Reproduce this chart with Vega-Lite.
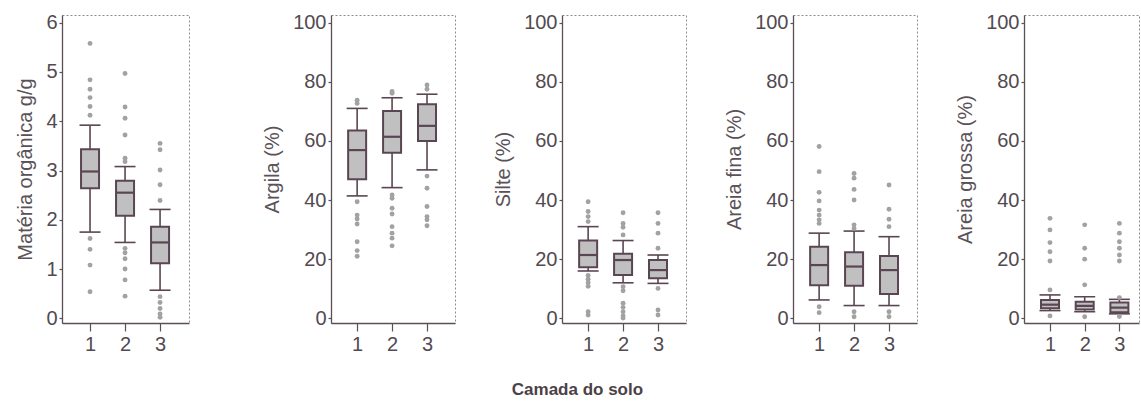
{
  "$schema": "https://vega.github.io/schema/vega-lite/v6.json",
  "background": "white",
  "padding": {"left": 15, "top": 12, "right": 0, "bottom": 2},
  "datasets": {
    "stats": [
      {"var": "mo", "camada": 1, "lo": 1.75, "q1": 2.64, "med": 2.98, "q3": 3.43, "hi": 3.92},
      {"var": "mo", "camada": 2, "lo": 1.54, "q1": 2.08, "med": 2.55, "q3": 2.79, "hi": 3.08},
      {"var": "mo", "camada": 3, "lo": 0.57, "q1": 1.12, "med": 1.54, "q3": 1.86, "hi": 2.21},
      {"var": "argila", "camada": 1, "lo": 41.4, "q1": 47.0, "med": 56.9, "q3": 63.5, "hi": 71.0},
      {"var": "argila", "camada": 2, "lo": 44.2, "q1": 56.0, "med": 61.4, "q3": 70.1, "hi": 74.6},
      {"var": "argila", "camada": 3, "lo": 50.2, "q1": 60.0, "med": 65.1, "q3": 72.4, "hi": 75.8},
      {"var": "silte", "camada": 1, "lo": 16.0, "q1": 17.3, "med": 21.4, "q3": 26.3, "hi": 31.0},
      {"var": "silte", "camada": 2, "lo": 12.0, "q1": 14.6, "med": 19.7, "q3": 21.8, "hi": 26.3},
      {"var": "silte", "camada": 3, "lo": 11.8, "q1": 13.5, "med": 16.3, "q3": 19.7, "hi": 21.4},
      {"var": "afina", "camada": 1, "lo": 6.2, "q1": 11.2, "med": 18.0, "q3": 24.2, "hi": 28.8},
      {"var": "afina", "camada": 2, "lo": 4.3, "q1": 11.0, "med": 17.5, "q3": 22.3, "hi": 29.5},
      {"var": "afina", "camada": 3, "lo": 4.3, "q1": 8.2, "med": 16.3, "q3": 21.1, "hi": 27.6},
      {"var": "agrossa", "camada": 1, "lo": 2.6, "q1": 3.4, "med": 4.6, "q3": 6.2, "hi": 7.9},
      {"var": "agrossa", "camada": 2, "lo": 2.2, "q1": 3.0, "med": 4.2, "q3": 5.6, "hi": 7.3},
      {"var": "agrossa", "camada": 3, "lo": 1.5, "q1": 2.0, "med": 3.6, "q3": 5.3, "hi": 6.4}
    ],
    "out": [
      {"var": "mo", "camada": 1, "v": 5.58}, {"var": "mo", "camada": 1, "v": 4.84}, {"var": "mo", "camada": 1, "v": 4.65}, {"var": "mo", "camada": 1, "v": 4.48}, {"var": "mo", "camada": 1, "v": 4.3}, {"var": "mo", "camada": 1, "v": 4.12},
      {"var": "mo", "camada": 1, "v": 1.62}, {"var": "mo", "camada": 1, "v": 1.4}, {"var": "mo", "camada": 1, "v": 1.08}, {"var": "mo", "camada": 1, "v": 0.54},
      {"var": "mo", "camada": 2, "v": 4.97}, {"var": "mo", "camada": 2, "v": 4.29}, {"var": "mo", "camada": 2, "v": 4.06}, {"var": "mo", "camada": 2, "v": 3.72}, {"var": "mo", "camada": 2, "v": 3.25}, {"var": "mo", "camada": 2, "v": 3.18},
      {"var": "mo", "camada": 2, "v": 1.42}, {"var": "mo", "camada": 2, "v": 1.33}, {"var": "mo", "camada": 2, "v": 1.21}, {"var": "mo", "camada": 2, "v": 1.0}, {"var": "mo", "camada": 2, "v": 0.78}, {"var": "mo", "camada": 2, "v": 0.45},
      {"var": "mo", "camada": 3, "v": 3.55}, {"var": "mo", "camada": 3, "v": 3.42}, {"var": "mo", "camada": 3, "v": 3.01}, {"var": "mo", "camada": 3, "v": 2.71}, {"var": "mo", "camada": 3, "v": 2.39},
      {"var": "mo", "camada": 3, "v": 0.44}, {"var": "mo", "camada": 3, "v": 0.32}, {"var": "mo", "camada": 3, "v": 0.2}, {"var": "mo", "camada": 3, "v": 0.09}, {"var": "mo", "camada": 3, "v": 0.02},
      {"var": "argila", "camada": 1, "v": 73.8}, {"var": "argila", "camada": 1, "v": 72.7}, {"var": "argila", "camada": 1, "v": 39.4}, {"var": "argila", "camada": 1, "v": 34.9}, {"var": "argila", "camada": 1, "v": 33.6}, {"var": "argila", "camada": 1, "v": 31.9}, {"var": "argila", "camada": 1, "v": 25.9}, {"var": "argila", "camada": 1, "v": 22.9}, {"var": "argila", "camada": 1, "v": 21.0},
      {"var": "argila", "camada": 2, "v": 76.7}, {"var": "argila", "camada": 2, "v": 76.1}, {"var": "argila", "camada": 2, "v": 41.7}, {"var": "argila", "camada": 2, "v": 40.6}, {"var": "argila", "camada": 2, "v": 37.2}, {"var": "argila", "camada": 2, "v": 35.3}, {"var": "argila", "camada": 2, "v": 31.0}, {"var": "argila", "camada": 2, "v": 28.8}, {"var": "argila", "camada": 2, "v": 27.1}, {"var": "argila", "camada": 2, "v": 24.5},
      {"var": "argila", "camada": 3, "v": 78.9}, {"var": "argila", "camada": 3, "v": 77.5}, {"var": "argila", "camada": 3, "v": 48.1}, {"var": "argila", "camada": 3, "v": 44.0}, {"var": "argila", "camada": 3, "v": 37.8}, {"var": "argila", "camada": 3, "v": 34.4}, {"var": "argila", "camada": 3, "v": 33.3}, {"var": "argila", "camada": 3, "v": 31.3},
      {"var": "silte", "camada": 1, "v": 39.4}, {"var": "silte", "camada": 1, "v": 36.1}, {"var": "silte", "camada": 1, "v": 34.4}, {"var": "silte", "camada": 1, "v": 32.7}, {"var": "silte", "camada": 1, "v": 14.5}, {"var": "silte", "camada": 1, "v": 13.2}, {"var": "silte", "camada": 1, "v": 12.0}, {"var": "silte", "camada": 1, "v": 10.8}, {"var": "silte", "camada": 1, "v": 2.2}, {"var": "silte", "camada": 1, "v": 1.1},
      {"var": "silte", "camada": 2, "v": 35.7}, {"var": "silte", "camada": 2, "v": 32.1}, {"var": "silte", "camada": 2, "v": 30.8}, {"var": "silte", "camada": 2, "v": 28.2}, {"var": "silte", "camada": 2, "v": 10.7}, {"var": "silte", "camada": 2, "v": 9.3}, {"var": "silte", "camada": 2, "v": 5.1}, {"var": "silte", "camada": 2, "v": 3.7}, {"var": "silte", "camada": 2, "v": 2.2}, {"var": "silte", "camada": 2, "v": 0.8}, {"var": "silte", "camada": 2, "v": 0.1},
      {"var": "silte", "camada": 3, "v": 35.7}, {"var": "silte", "camada": 3, "v": 32.1}, {"var": "silte", "camada": 3, "v": 28.8}, {"var": "silte", "camada": 3, "v": 23.7}, {"var": "silte", "camada": 3, "v": 10.1}, {"var": "silte", "camada": 3, "v": 2.8}, {"var": "silte", "camada": 3, "v": 1.1},
      {"var": "afina", "camada": 1, "v": 58.1}, {"var": "afina", "camada": 1, "v": 49.6}, {"var": "afina", "camada": 1, "v": 42.6}, {"var": "afina", "camada": 1, "v": 39.7}, {"var": "afina", "camada": 1, "v": 36.6}, {"var": "afina", "camada": 1, "v": 34.9}, {"var": "afina", "camada": 1, "v": 33.3}, {"var": "afina", "camada": 1, "v": 32.1}, {"var": "afina", "camada": 1, "v": 3.9}, {"var": "afina", "camada": 1, "v": 1.9},
      {"var": "afina", "camada": 2, "v": 49.0}, {"var": "afina", "camada": 2, "v": 47.4}, {"var": "afina", "camada": 2, "v": 43.6}, {"var": "afina", "camada": 2, "v": 40.0}, {"var": "afina", "camada": 2, "v": 31.6}, {"var": "afina", "camada": 2, "v": 30.4}, {"var": "afina", "camada": 2, "v": 2.2}, {"var": "afina", "camada": 2, "v": 0.5},
      {"var": "afina", "camada": 3, "v": 45.1}, {"var": "afina", "camada": 3, "v": 36.9}, {"var": "afina", "camada": 3, "v": 33.5}, {"var": "afina", "camada": 3, "v": 31.0}, {"var": "afina", "camada": 3, "v": 2.2}, {"var": "afina", "camada": 3, "v": 0.5},
      {"var": "agrossa", "camada": 1, "v": 33.8}, {"var": "agrossa", "camada": 1, "v": 29.9}, {"var": "agrossa", "camada": 1, "v": 25.6}, {"var": "agrossa", "camada": 1, "v": 22.5}, {"var": "agrossa", "camada": 1, "v": 19.4}, {"var": "agrossa", "camada": 1, "v": 9.6}, {"var": "agrossa", "camada": 1, "v": 0.8},
      {"var": "agrossa", "camada": 2, "v": 31.6}, {"var": "agrossa", "camada": 2, "v": 23.7}, {"var": "agrossa", "camada": 2, "v": 20.0}, {"var": "agrossa", "camada": 2, "v": 11.3}, {"var": "agrossa", "camada": 2, "v": 0.5},
      {"var": "agrossa", "camada": 3, "v": 32.1}, {"var": "agrossa", "camada": 3, "v": 28.8}, {"var": "agrossa", "camada": 3, "v": 25.9}, {"var": "agrossa", "camada": 3, "v": 23.7}, {"var": "agrossa", "camada": 3, "v": 21.4}, {"var": "agrossa", "camada": 3, "v": 19.4}, {"var": "agrossa", "camada": 3, "v": 7.0}, {"var": "agrossa", "camada": 3, "v": 0.6}
    ]
  },
  "title": {"text": "Camada do solo", "orient": "bottom", "anchor": "middle", "fontSize": 17, "fontWeight": "bold", "color": "#4a4248", "font": "Liberation Sans", "offset": 27},
  "spacing": 72,
  "hconcat": [
    {
      "width": 127, "height": 308,
      "layer": [
        {"data": {"name": "stats"}, "transform": [{"filter": "datum.var === 'mo'"}],
         "mark": {"type": "rule", "color": "#5a4652", "strokeWidth": 1.6},
         "encoding": {"x": {"field": "camada", "type": "quantitative", "scale": {"domain": [0.342, 3.684], "nice": false, "zero": false}, "axis": {"values": [1, 2, 3], "format": "d", "title": null}},
                      "y": {"field": "lo", "type": "quantitative", "title": "Matéria orgânica g/g", "scale": {"domain": [-0.095, 6.156], "nice": false, "zero": false}, "axis": {"values": [0, 1, 2, 3, 4, 5, 6]}},
                      "y2": {"field": "hi"}}},
        {"data": {"name": "stats"}, "transform": [{"filter": "datum.var === 'mo'"}],
         "mark": {"type": "bar", "size": 18, "fill": "#c0c0c0", "stroke": "#5a4652", "strokeWidth": 2},
         "encoding": {"x": {"field": "camada", "type": "quantitative", "title": null}, "y": {"field": "q1", "type": "quantitative", "title": "Matéria orgânica g/g"}, "y2": {"field": "q3"}}},
        {"data": {"name": "stats"}, "transform": [{"filter": "datum.var === 'mo'"}],
         "mark": {"type": "tick", "orient": "horizontal", "size": 18, "thickness": 2.2, "color": "#5a4652", "opacity": 1},
         "encoding": {"x": {"field": "camada", "type": "quantitative", "title": null}, "y": {"field": "med", "type": "quantitative", "title": "Matéria orgânica g/g"}}},
        {"data": {"name": "stats"}, "transform": [{"filter": "datum.var === 'mo'"}],
         "mark": {"type": "tick", "orient": "horizontal", "size": 21, "thickness": 1.6, "color": "#5a4652", "opacity": 1},
         "encoding": {"x": {"field": "camada", "type": "quantitative", "title": null}, "y": {"field": "lo", "type": "quantitative", "title": "Matéria orgânica g/g"}}},
        {"data": {"name": "stats"}, "transform": [{"filter": "datum.var === 'mo'"}],
         "mark": {"type": "tick", "orient": "horizontal", "size": 21, "thickness": 1.6, "color": "#5a4652", "opacity": 1},
         "encoding": {"x": {"field": "camada", "type": "quantitative", "title": null}, "y": {"field": "hi", "type": "quantitative", "title": "Matéria orgânica g/g"}}},
        {"data": {"name": "out"}, "transform": [{"filter": "datum.var === 'mo'"}],
         "mark": {"type": "circle", "size": 24, "color": "#a2a2a2", "opacity": 1},
         "encoding": {"x": {"field": "camada", "type": "quantitative", "title": null}, "y": {"field": "v", "type": "quantitative", "title": "Matéria orgânica g/g"}}}
      ]
    },
    {
      "spacing": 37,
      "hconcat": [
        {
          "width": 124, "height": 308,
          "layer": [
            {"data": {"name": "stats"}, "transform": [{"filter": "datum.var === 'argila'"}],
             "mark": {"type": "rule", "color": "#5a4652", "strokeWidth": 1.6},
             "encoding": {"x": {"field": "camada", "type": "quantitative", "scale": {"domain": [0.395, 3.658], "nice": false, "zero": false}, "axis": {"values": [1, 2, 3], "format": "d", "title": null}},
                          "y": {"field": "lo", "type": "quantitative", "title": "Argila (%)", "scale": {"domain": [-1.6, 102.6], "nice": false, "zero": false}, "axis": {"values": [0, 20, 40, 60, 80, 100]}},
                          "y2": {"field": "hi"}}},
            {"data": {"name": "stats"}, "transform": [{"filter": "datum.var === 'argila'"}],
             "mark": {"type": "bar", "size": 18, "fill": "#c0c0c0", "stroke": "#5a4652", "strokeWidth": 2},
             "encoding": {"x": {"field": "camada", "type": "quantitative", "title": null}, "y": {"field": "q1", "type": "quantitative", "title": "Argila (%)"}, "y2": {"field": "q3"}}},
            {"data": {"name": "stats"}, "transform": [{"filter": "datum.var === 'argila'"}],
             "mark": {"type": "tick", "orient": "horizontal", "size": 18, "thickness": 2.2, "color": "#5a4652", "opacity": 1},
             "encoding": {"x": {"field": "camada", "type": "quantitative", "title": null}, "y": {"field": "med", "type": "quantitative", "title": "Argila (%)"}}},
            {"data": {"name": "stats"}, "transform": [{"filter": "datum.var === 'argila'"}],
             "mark": {"type": "tick", "orient": "horizontal", "size": 21, "thickness": 1.6, "color": "#5a4652", "opacity": 1},
             "encoding": {"x": {"field": "camada", "type": "quantitative", "title": null}, "y": {"field": "lo", "type": "quantitative", "title": "Argila (%)"}}},
            {"data": {"name": "stats"}, "transform": [{"filter": "datum.var === 'argila'"}],
             "mark": {"type": "tick", "orient": "horizontal", "size": 21, "thickness": 1.6, "color": "#5a4652", "opacity": 1},
             "encoding": {"x": {"field": "camada", "type": "quantitative", "title": null}, "y": {"field": "hi", "type": "quantitative", "title": "Argila (%)"}}},
            {"data": {"name": "out"}, "transform": [{"filter": "datum.var === 'argila'"}],
             "mark": {"type": "circle", "size": 24, "color": "#a2a2a2", "opacity": 1},
             "encoding": {"x": {"field": "camada", "type": "quantitative", "title": null}, "y": {"field": "v", "type": "quantitative", "title": "Argila (%)"}}}
          ]
        },
        {
          "width": 124, "height": 308,
          "layer": [
            {"data": {"name": "stats"}, "transform": [{"filter": "datum.var === 'silte'"}],
             "mark": {"type": "rule", "color": "#5a4652", "strokeWidth": 1.6},
             "encoding": {"x": {"field": "camada", "type": "quantitative", "scale": {"domain": [0.395, 3.658], "nice": false, "zero": false}, "axis": {"values": [1, 2, 3], "format": "d", "title": null}},
                          "y": {"field": "lo", "type": "quantitative", "title": "Silte (%)", "scale": {"domain": [-1.6, 102.6], "nice": false, "zero": false}, "axis": {"values": [0, 20, 40, 60, 80, 100]}},
                          "y2": {"field": "hi"}}},
            {"data": {"name": "stats"}, "transform": [{"filter": "datum.var === 'silte'"}],
             "mark": {"type": "bar", "size": 18, "fill": "#c0c0c0", "stroke": "#5a4652", "strokeWidth": 2},
             "encoding": {"x": {"field": "camada", "type": "quantitative", "title": null}, "y": {"field": "q1", "type": "quantitative", "title": "Silte (%)"}, "y2": {"field": "q3"}}},
            {"data": {"name": "stats"}, "transform": [{"filter": "datum.var === 'silte'"}],
             "mark": {"type": "tick", "orient": "horizontal", "size": 18, "thickness": 2.2, "color": "#5a4652", "opacity": 1},
             "encoding": {"x": {"field": "camada", "type": "quantitative", "title": null}, "y": {"field": "med", "type": "quantitative", "title": "Silte (%)"}}},
            {"data": {"name": "stats"}, "transform": [{"filter": "datum.var === 'silte'"}],
             "mark": {"type": "tick", "orient": "horizontal", "size": 21, "thickness": 1.6, "color": "#5a4652", "opacity": 1},
             "encoding": {"x": {"field": "camada", "type": "quantitative", "title": null}, "y": {"field": "lo", "type": "quantitative", "title": "Silte (%)"}}},
            {"data": {"name": "stats"}, "transform": [{"filter": "datum.var === 'silte'"}],
             "mark": {"type": "tick", "orient": "horizontal", "size": 21, "thickness": 1.6, "color": "#5a4652", "opacity": 1},
             "encoding": {"x": {"field": "camada", "type": "quantitative", "title": null}, "y": {"field": "hi", "type": "quantitative", "title": "Silte (%)"}}},
            {"data": {"name": "out"}, "transform": [{"filter": "datum.var === 'silte'"}],
             "mark": {"type": "circle", "size": 24, "color": "#a2a2a2", "opacity": 1},
             "encoding": {"x": {"field": "camada", "type": "quantitative", "title": null}, "y": {"field": "v", "type": "quantitative", "title": "Silte (%)"}}}
          ]
        },
        {
          "width": 124, "height": 308,
          "layer": [
            {"data": {"name": "stats"}, "transform": [{"filter": "datum.var === 'afina'"}],
             "mark": {"type": "rule", "color": "#5a4652", "strokeWidth": 1.6},
             "encoding": {"x": {"field": "camada", "type": "quantitative", "scale": {"domain": [0.395, 3.658], "nice": false, "zero": false}, "axis": {"values": [1, 2, 3], "format": "d", "title": null}},
                          "y": {"field": "lo", "type": "quantitative", "title": "Areia fina (%)", "scale": {"domain": [-1.6, 102.6], "nice": false, "zero": false}, "axis": {"values": [0, 20, 40, 60, 80, 100]}},
                          "y2": {"field": "hi"}}},
            {"data": {"name": "stats"}, "transform": [{"filter": "datum.var === 'afina'"}],
             "mark": {"type": "bar", "size": 18, "fill": "#c0c0c0", "stroke": "#5a4652", "strokeWidth": 2},
             "encoding": {"x": {"field": "camada", "type": "quantitative", "title": null}, "y": {"field": "q1", "type": "quantitative", "title": "Areia fina (%)"}, "y2": {"field": "q3"}}},
            {"data": {"name": "stats"}, "transform": [{"filter": "datum.var === 'afina'"}],
             "mark": {"type": "tick", "orient": "horizontal", "size": 18, "thickness": 2.2, "color": "#5a4652", "opacity": 1},
             "encoding": {"x": {"field": "camada", "type": "quantitative", "title": null}, "y": {"field": "med", "type": "quantitative", "title": "Areia fina (%)"}}},
            {"data": {"name": "stats"}, "transform": [{"filter": "datum.var === 'afina'"}],
             "mark": {"type": "tick", "orient": "horizontal", "size": 21, "thickness": 1.6, "color": "#5a4652", "opacity": 1},
             "encoding": {"x": {"field": "camada", "type": "quantitative", "title": null}, "y": {"field": "lo", "type": "quantitative", "title": "Areia fina (%)"}}},
            {"data": {"name": "stats"}, "transform": [{"filter": "datum.var === 'afina'"}],
             "mark": {"type": "tick", "orient": "horizontal", "size": 21, "thickness": 1.6, "color": "#5a4652", "opacity": 1},
             "encoding": {"x": {"field": "camada", "type": "quantitative", "title": null}, "y": {"field": "hi", "type": "quantitative", "title": "Areia fina (%)"}}},
            {"data": {"name": "out"}, "transform": [{"filter": "datum.var === 'afina'"}],
             "mark": {"type": "circle", "size": 24, "color": "#a2a2a2", "opacity": 1},
             "encoding": {"x": {"field": "camada", "type": "quantitative", "title": null}, "y": {"field": "v", "type": "quantitative", "title": "Areia fina (%)"}}}
          ]
        },
        {
          "width": 115, "height": 308,
          "layer": [
            {"data": {"name": "stats"}, "transform": [{"filter": "datum.var === 'agrossa'"}],
             "mark": {"type": "rule", "color": "#5a4652", "strokeWidth": 1.6},
             "encoding": {"x": {"field": "camada", "type": "quantitative", "scale": {"domain": [0.395, 3.421], "nice": false, "zero": false}, "axis": {"values": [1, 2, 3], "format": "d", "title": null}},
                          "y": {"field": "lo", "type": "quantitative", "title": "Areia grossa (%)", "scale": {"domain": [-1.6, 102.6], "nice": false, "zero": false}, "axis": {"values": [0, 20, 40, 60, 80, 100]}},
                          "y2": {"field": "hi"}}},
            {"data": {"name": "stats"}, "transform": [{"filter": "datum.var === 'agrossa'"}],
             "mark": {"type": "bar", "size": 18, "fill": "#c0c0c0", "stroke": "#5a4652", "strokeWidth": 2},
             "encoding": {"x": {"field": "camada", "type": "quantitative", "title": null}, "y": {"field": "q1", "type": "quantitative", "title": "Areia grossa (%)"}, "y2": {"field": "q3"}}},
            {"data": {"name": "stats"}, "transform": [{"filter": "datum.var === 'agrossa'"}],
             "mark": {"type": "tick", "orient": "horizontal", "size": 18, "thickness": 2.2, "color": "#5a4652", "opacity": 1},
             "encoding": {"x": {"field": "camada", "type": "quantitative", "title": null}, "y": {"field": "med", "type": "quantitative", "title": "Areia grossa (%)"}}},
            {"data": {"name": "stats"}, "transform": [{"filter": "datum.var === 'agrossa'"}],
             "mark": {"type": "tick", "orient": "horizontal", "size": 21, "thickness": 1.6, "color": "#5a4652", "opacity": 1},
             "encoding": {"x": {"field": "camada", "type": "quantitative", "title": null}, "y": {"field": "lo", "type": "quantitative", "title": "Areia grossa (%)"}}},
            {"data": {"name": "stats"}, "transform": [{"filter": "datum.var === 'agrossa'"}],
             "mark": {"type": "tick", "orient": "horizontal", "size": 21, "thickness": 1.6, "color": "#5a4652", "opacity": 1},
             "encoding": {"x": {"field": "camada", "type": "quantitative", "title": null}, "y": {"field": "hi", "type": "quantitative", "title": "Areia grossa (%)"}}},
            {"data": {"name": "out"}, "transform": [{"filter": "datum.var === 'agrossa'"}],
             "mark": {"type": "circle", "size": 24, "color": "#a2a2a2", "opacity": 1},
             "encoding": {"x": {"field": "camada", "type": "quantitative", "title": null}, "y": {"field": "v", "type": "quantitative", "title": "Areia grossa (%)"}}}
          ]
        }
      ]
    }
  ],
  "config": {
    "font": "Liberation Sans",
    "view": {"stroke": "#8c8c8c", "strokeDash": [2, 2], "strokeWidth": 1},
    "axis": {"grid": false, "domainColor": "#5a4f57", "domainWidth": 1.3, "tickColor": "#5a4f57", "tickWidth": 1.2,
             "labelColor": "#524a50", "titleColor": "#5a5258", "labelFont": "Liberation Sans", "titleFont": "Liberation Sans",
             "labelFontSize": 20, "titleFontSize": 20, "titleFontWeight": "normal"},
    "axisX": {"tickSize": 8, "labelPadding": 3},
    "axisY": {"tickSize": 3, "labelPadding": 2, "titlePadding": 10}
  }
}
